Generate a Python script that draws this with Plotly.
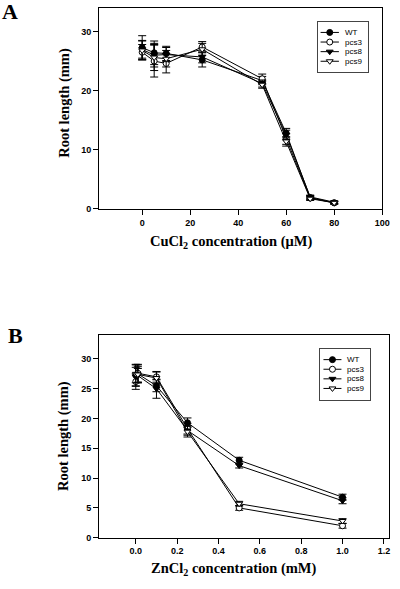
import plotly.graph_objects as go

W, H = 400, 589

# ---------------- Data ----------------
series_names = ["WT", "pcs3", "pcs8", "pcs9"]

cu_conc = [0, 5, 10, 25, 50, 60, 70, 80]
cu_wt = [27.3, 26.4, 26.3, 25.2, 21.7, 12.8, 1.9, 1.0]
cu_pcs3 = [26.5, 25.0, 24.6, 27.4, 22.0, 11.8, 1.8, 1.0]
cu_pcs8 = [27.0, 26.0, 26.1, 25.7, 21.2, 12.5, 2.0, 1.1]
cu_pcs9 = [26.8, 25.6, 25.4, 27.0, 21.0, 11.4, 1.7, 1.0]
cu_wt_err = [2.0, 2.0, 1.2, 1.2, 0.7, 0.8, 0.3, 0.2]
cu_pcs3_err = [1.3, 2.7, 1.6, 0.9, 0.8, 0.9, 0.3, 0.2]
cu_pcs8_err = [1.5, 2.0, 1.2, 1.0, 0.6, 0.8, 0.3, 0.2]
cu_pcs9_err = [1.6, 2.2, 1.4, 1.0, 0.6, 0.8, 0.3, 0.2]

zn_conc = [0, 0.01, 0.1, 0.25, 0.5, 1.0]
zn_wt = [27.3, 27.5, 25.5, 19.3, 13.0, 6.8]
zn_pcs3 = [26.2, 27.6, 27.0, 18.3, 5.0, 2.0]
zn_pcs8 = [27.0, 27.2, 25.0, 18.0, 12.1, 6.2]
zn_pcs9 = [27.5, 27.4, 26.8, 17.8, 5.7, 2.8]
zn_wt_err = [1.8, 1.5, 1.0, 0.8, 0.5, 0.5]
zn_pcs3_err = [1.3, 1.5, 0.9, 0.9, 0.4, 0.4]
zn_pcs8_err = [1.6, 1.2, 1.6, 0.8, 0.4, 0.5]
zn_pcs9_err = [1.5, 1.3, 1.0, 0.9, 0.4, 0.4]

cu_ticks = [0, 20, 40, 60, 80, 100]
zn_ticks = [0.0, 0.2, 0.4, 0.6, 0.8, 1.0, 1.2]

# ---------------- Styles ----------------
styles = {
    "WT": dict(symbol="circle", color="black"),
    "pcs3": dict(symbol="circle", color="white"),
    "pcs8": dict(symbol="triangle-down", color="black"),
    "pcs9": dict(symbol="triangle-down", color="white"),
}


def px_x(p):
    return p / W


def px_y(p):
    return 1 - p / H


fig = go.Figure()

cu_data = {"WT": (cu_wt, cu_wt_err), "pcs3": (cu_pcs3, cu_pcs3_err),
           "pcs8": (cu_pcs8, cu_pcs8_err), "pcs9": (cu_pcs9, cu_pcs9_err)}
zn_data = {"WT": (zn_wt, zn_wt_err), "pcs3": (zn_pcs3, zn_pcs3_err),
           "pcs8": (zn_pcs8, zn_pcs8_err), "pcs9": (zn_pcs9, zn_pcs9_err)}


def add_series(xs, data, xa, ya):
    for name in series_names:
        vals, errs = data[name]
        st = styles[name]
        fig.add_trace(go.Scatter(
            x=xs, y=vals, mode="lines+markers", name=name, showlegend=False,
            xaxis=xa, yaxis=ya,
            line=dict(color="black", width=1),
            marker=dict(symbol=st["symbol"], color=st["color"], size=6,
                        line=dict(color="black", width=1)),
            error_y=dict(type="data", array=errs, visible=True,
                         color="black", thickness=1, width=4),
        ))


add_series(cu_conc, cu_data, "x", "y")
add_series(zn_conc, zn_data, "x2", "y2")

# ---------------- Custom legends ----------------
leg_y = [0.79, 0.60, 0.41, 0.22]
for xa, ya in [("x3", "y3"), ("x4", "y4")]:
    for name, yy in zip(series_names, leg_y):
        st = styles[name]
        fig.add_trace(go.Scatter(
            x=[0.06, 0.42], y=[yy, yy], mode="lines", showlegend=False,
            xaxis=xa, yaxis=ya, line=dict(color="black", width=1),
            hoverinfo="skip"))
        fig.add_trace(go.Scatter(
            x=[0.24], y=[yy], mode="markers", showlegend=False,
            xaxis=xa, yaxis=ya,
            marker=dict(symbol=st["symbol"], color=st["color"], size=6,
                        line=dict(color="black", width=1)),
            hoverinfo="skip"))

annotations = []
for xref, yref in [("x3", "y3"), ("x4", "y4")]:
    for name, yy in zip(series_names, leg_y):
        annotations.append(dict(
            x=0.5, y=yy, xref=xref, yref=yref, text=name, showarrow=False,
            xanchor="left", yanchor="middle",
            font=dict(family="Liberation Sans, Arial", size=8, color="black")))

# ---------------- Axes ----------------
tickfont = dict(family="Liberation Sans, Arial", size=9, color="black", weight="bold")
common = dict(showline=True, linecolor="black", linewidth=1, mirror=True,
              ticks="outside", ticklen=5, tickwidth=1, tickcolor="black",
              showgrid=False, zeroline=False, tickfont=tickfont,
              ticklabeloverflow="allow")

legend_axis = dict(range=[0, 1], showline=True, mirror=True, linecolor="#444",
                   linewidth=1, showticklabels=False, ticks="", showgrid=False,
                   zeroline=False, fixedrange=True)

# Panel A plot area in px: x 101-390, y 8-210.5
# Panel B plot area in px: x 101-397, y 338-542.3
layout = dict(
    width=W, height=H,
    margin=dict(l=0, r=0, t=0, b=0),
    paper_bgcolor="white", plot_bgcolor="white",
    showlegend=False,
    xaxis=dict(domain=[px_x(101), px_x(390)], range=[-18, 100],
               tickvals=cu_ticks, anchor="y", **common),
    yaxis=dict(domain=[px_y(210.5), px_y(8)], range=[0, 34],
               tickvals=[0, 10, 20, 30], anchor="x", **common),
    xaxis2=dict(domain=[px_x(101), px_x(397)], range=[-0.178, 1.225],
                tickvals=zn_ticks, tickformat=".1f", anchor="y2", **common),
    yaxis2=dict(domain=[px_y(542.3), px_y(338)], range=[0, 34],
                tickvals=[0, 5, 10, 15, 20, 25, 30], anchor="x2", **common),
    xaxis3=dict(domain=[px_x(324), px_x(376)], anchor="y3", **legend_axis),
    yaxis3=dict(domain=[px_y(73), px_y(22)], anchor="x3", **legend_axis),
    xaxis4=dict(domain=[px_x(327), px_x(378)], anchor="y4", **legend_axis),
    yaxis4=dict(domain=[px_y(403), px_y(352)], anchor="x4", **legend_axis),
)

title_font = dict(family="Liberation Serif, Times New Roman", size=14.5, color="black", weight="bold")
panel_font = dict(family="Liberation Serif, Times New Roman", size=22, color="black", weight="bold")

annotations += [
    dict(x=px_x(65), y=px_y(104), xref="paper", yref="paper", text="Root length (mm)",
         textangle=-90, showarrow=False, xanchor="center", yanchor="middle", font=title_font),
    dict(x=px_x(65), y=px_y(440), xref="paper", yref="paper", text="Root length (mm)",
         textangle=-90, showarrow=False, xanchor="center", yanchor="middle", font=title_font),
    dict(x=px_x(236), y=px_y(244), xref="paper", yref="paper",
         text="CuCl<sub>2</sub> concentration (μM)", showarrow=False,
         xanchor="center", yanchor="middle", font=title_font),
    dict(x=px_x(239), y=px_y(574), xref="paper", yref="paper",
         text="ZnCl<sub>2</sub> concentration (mM)", showarrow=False,
         xanchor="center", yanchor="middle", font=title_font),
    dict(x=px_x(10), y=px_y(12), xref="paper", yref="paper", text="A",
         showarrow=False, xanchor="center", yanchor="middle", font=panel_font),
    dict(x=px_x(16), y=px_y(338), xref="paper", yref="paper", text="B",
         showarrow=False, xanchor="center", yanchor="middle", font=panel_font),
]
layout["annotations"] = annotations

fig.update_layout(**layout)
fig.write_html("out.html", config={"displayModeBar": False},
               post_script="document.body.style.margin='0';")
